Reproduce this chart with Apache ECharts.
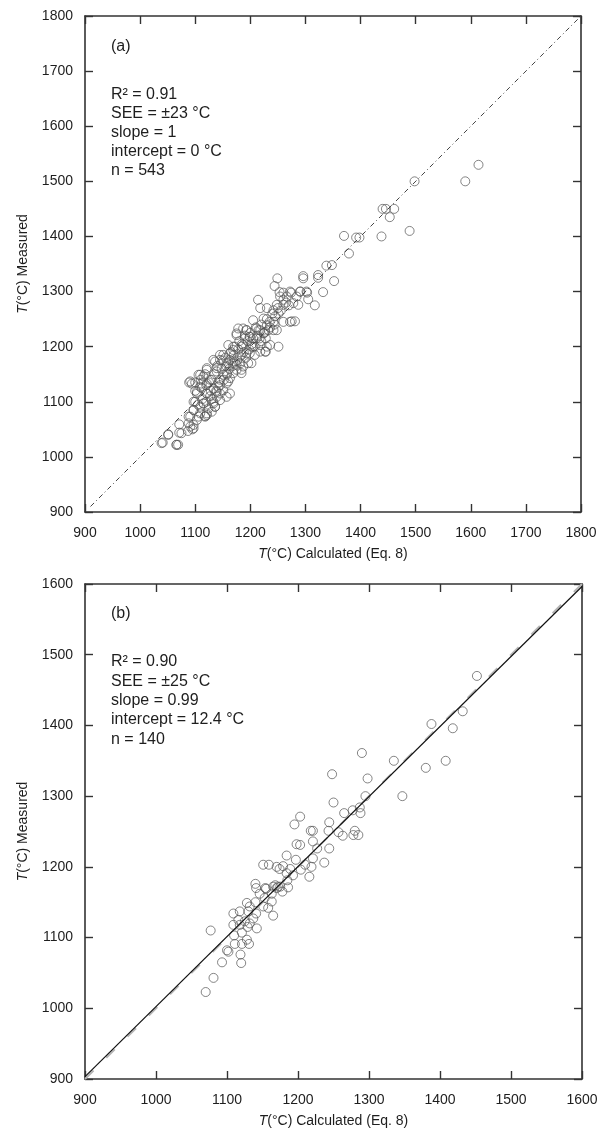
<!DOCTYPE html>
<html>
<head>
<meta charset="utf-8">
<script src="https://cdn.jsdelivr.net/npm/echarts@6/dist/echarts.min.js"></script>
<style>
html,body{margin:0;padding:0;background:#fff;}
#chart{width:601px;height:1129px;}
</style>
</head>
<body>
<div id="chart"></div>
<script>
// ---------- DATA ----------
const ticksA = [900, 1000, 1100, 1200, 1300, 1400, 1500, 1600, 1700, 1800];
const ticksB = [900, 1000, 1100, 1200, 1300, 1400, 1500, 1600];

// Panel (a): [T calculated, T measured]
const pointsA = [
  [1614,1530],[1590,1500],[1498,1500],[1440,1450],[1446,1450],[1461,1450],[1453,1435],
  [1438,1400],[1489,1410],[1370,1401],[1392,1398],[1398,1398],[1379,1369],[1338,1347],
  [1348,1348],[1352,1319],[1323,1330],[1323,1325],[1296,1328],[1296,1324],[1249,1324],
  [1244,1310],[1332,1299],[1274,1298],[1291,1300],[1303,1298],[1253,1299],[1260,1298],
  [1214,1285],[1317,1275],[1275,1246],[1281,1246],[1251,1200],[1228,1191],[1202,1170],
  [1041,1026],[1051,1041],[1066,1022],[1069,1022],[1071,1044],[1071,1059],[1087,1047],
  [1095,1050],[1089,1135],[1100,1135],[1118,1074],[1136,1091],
  [1272,1300],[1290,1300],[1302,1300],[1305,1286],[1284,1291],[1266,1291],[1254,1291],
  [1248,1276],[1230,1270],[1242,1266],[1218,1270],[1224,1251],[1205,1248],[1251,1260],
  [1260,1276],[1278,1279],[1287,1276],
  [1187,1233],[1175,1224],[1193,1230],[1199,1218],[1218,1230],[1230,1239],[1242,1245],
  [1224,1224],[1211,1215],[1190,1215],[1233,1230],[1248,1230],[1260,1245],[1272,1245],
  [1160,1203],[1169,1194],[1184,1200],[1202,1200],[1218,1203],[1230,1200],[1218,1191],
  [1181,1182],[1163,1176],[1151,1185],[1193,1188],[1208,1185],[1227,1191],[1145,1176],
  [1169,1170],
  [1133,1176],[1139,1161],[1157,1164],[1175,1167],[1184,1158],[1196,1170],[1151,1149],
  [1169,1152],[1121,1158],[1115,1146],[1130,1140],[1145,1140],[1163,1143],[1184,1152],
  [1106,1149],[1142,1127],[1157,1133],[1133,1124],[1121,1133],[1109,1127],[1094,1133],
  [1103,1115],[1121,1115],[1139,1109],[1151,1121],[1115,1097],[1133,1097],[1145,1103],
  [1097,1100],[1109,1091],[1124,1088],[1136,1091],[1157,1109],[1163,1115],
  [1097,1085],[1109,1079],[1121,1079],[1091,1073],[1103,1067],[1088,1061],[1097,1058],
  [1118,1073],[1130,1082],
  [1110,1140],[1118,1150],[1125,1135],[1128,1120],[1135,1150],[1140,1165],[1148,1160],
  [1150,1175],[1155,1180],[1160,1170],[1165,1190],[1170,1185],[1172,1200],[1178,1195],
  [1180,1210],[1185,1205],[1190,1220],[1195,1210],[1200,1225],[1205,1215],[1210,1235],
  [1215,1230],[1220,1240],[1225,1225],[1230,1250],[1235,1245],[1240,1260],[1245,1255],
  [1250,1270],[1255,1265],[1260,1285],[1265,1280],[1270,1275],[1113,1105],[1120,1100],
  [1127,1110],[1138,1120],[1143,1135],[1152,1140],[1158,1150],[1162,1160],[1168,1165],
  [1176,1175],[1182,1170],[1188,1190],[1192,1180],[1198,1195],[1203,1205],[1208,1200],
  [1212,1220],[1220,1210],[1228,1215],[1236,1235],[1244,1240],[1100,1120],[1105,1095],
  [1112,1125],[1120,1130],[1130,1105],[1145,1115],
  [1178,1233],[1193,1230],[1211,1233],[1227,1227],[1242,1230],[1175,1221],[1199,1218],
  [1217,1215],[1236,1203],[1187,1203],[1169,1200],[1205,1200],[1163,1188],[1184,1185],
  [1199,1188],[1145,1185],[1136,1173],[1157,1170],[1172,1173],[1187,1164],[1121,1161],
  [1139,1155],[1157,1152],[1175,1158],[1109,1149],[1091,1137],[1112,1133],[1127,1140],
  [1145,1130],[1160,1137],[1103,1118],[1121,1115],[1139,1118],[1100,1100],[1115,1097],
  [1133,1100],[1097,1085],[1088,1073],[1106,1073],[1121,1076],[1091,1055],[1075,1043],
  [1097,1052],[1051,1040],[1039,1025],[1066,1022]
];
const oneToOneA = [[910, 910], [1800, 1800]];

// Panel (b)
const pointsB = [
  [1452,1470],[1432,1420],[1418,1396],[1388,1402],[1408,1350],[1380,1340],[1347,1300],
  [1335,1350],[1290,1361],[1248,1331],[1298,1325],[1295,1300],[1250,1291],[1287,1284],
  [1288,1276],[1277,1280],[1265,1276],[1244,1263],[1218,1251],[1221,1251],[1243,1251],
  [1257,1249],[1263,1244],[1278,1245],[1280,1251],[1285,1245],[1203,1271],[1203,1231],
  [1221,1236],[1227,1226],[1244,1226],[1221,1212],[1237,1206],[1210,1203],[1195,1260],
  [1198,1232],[1216,1186],[1184,1216],[1197,1210],
  [1151,1203],[1159,1203],[1170,1200],[1179,1201],[1174,1197],[1189,1197],[1184,1191],
  [1193,1188],[1204,1196],[1219,1200],[1185,1181],[1175,1172],[1186,1171],[1168,1174],
  [1170,1170],[1140,1176],[1141,1170],[1155,1169],[1163,1162],[1178,1165],[1146,1162],
  [1153,1156],[1163,1151],[1151,1144],[1158,1142],[1165,1131],[1128,1149],[1140,1150],
  [1132,1144],[1118,1137],[1109,1134],[1130,1137],[1141,1134],[1116,1125],[1125,1123],
  [1132,1120],[1142,1113],[1109,1118],[1118,1118],[1129,1115],[1137,1127],[1110,1103],
  [1121,1107],[1128,1097],[1131,1091],[1111,1091],[1121,1091],[1100,1082],[1102,1080],
  [1119,1076],[1093,1065],[1120,1064],[1077,1110],[1081,1043],[1070,1023],
  [1154,1170],[1165,1172],[1172,1172]
];
const oneToOneB = [[900, 900], [1600, 1600]];
const regressionB = [[900, 903.4], [1600, 1596.4]];

const statsA = ['R² = 0.91', 'SEE = ±23 °C', 'slope = 1', 'intercept = 0 °C', 'n = 543'];
const statsB = ['R² = 0.90', 'SEE = ±25 °C', 'slope = 0.99', 'intercept = 12.4 °C', 'n = 140'];
const panelLabels = ['(a)', '(b)'];
const xTitle = '{i|T}(°C) Calculated (Eq. 8)';
const yTitle = '{i|T}(°C) Measured';

// ---------- CHART ----------
const FONT = '"Liberation Sans", Arial, Helvetica, sans-serif';
const AX = '#333333';
const TXT = '#1e1e1e';

const richTitle = {
  fontSize: 14, fontFamily: FONT, color: TXT,
  rich: { i: { fontStyle: 'italic', fontSize: 14, fontFamily: FONT, color: TXT } }
};

function plain(v) { return String(v); }

function xAx(grid, min, max, main) {
  return {
    gridIndex: grid, type: 'value', min: min, max: max, interval: 100,
    position: main ? 'bottom' : 'top',
    axisLine: { show: true, onZero: false, lineStyle: { color: AX, width: 1.6 } },
    axisTick: { show: true, inside: true, length: 8, lineStyle: { color: AX, width: 1.4 } },
    axisLabel: { show: main, margin: 14, fontSize: 14, fontFamily: FONT, color: TXT, formatter: plain },
    splitLine: { show: false },
    name: main ? xTitle : '', nameLocation: 'middle', nameGap: 35,
    nameTextStyle: richTitle
  };
}
function yAx(grid, min, max, main) {
  return {
    gridIndex: grid, type: 'value', min: min, max: max, interval: 100,
    position: main ? 'left' : 'right',
    axisLine: { show: true, onZero: false, lineStyle: { color: AX, width: 1.6 } },
    axisTick: { show: true, inside: true, length: 8, lineStyle: { color: AX, width: 1.4 } },
    axisLabel: { show: main, margin: 12, fontSize: 14, fontFamily: FONT, color: TXT, formatter: plain },
    splitLine: { show: false },
    name: main ? yTitle : '', nameLocation: 'middle', nameGap: 55,
    nameTextStyle: richTitle
  };
}

const markerStyle = { color: 'rgba(255,255,255,0)', borderColor: '#555', borderWidth: 0.9 };

const graphics = [];
function addText(lines, x, y0, step) {
  lines.forEach(function (t, i) {
    graphics.push({
      type: 'text', x: x, y: y0 + i * step, silent: true,
      style: { text: t, fontSize: 16, fontFamily: FONT, fill: TXT, verticalAlign: 'middle', align: 'left' }
    });
  });
}
addText([panelLabels[0]], 111, 47, 0);
addText(statsA, 111, 95, 19);
addText([panelLabels[1]], 111, 614, 0);
addText(statsB, 111, 662, 19.3);

const option = {
  animation: false,
  backgroundColor: '#ffffff',
  grid: [
    { left: 85, top: 16, width: 496, height: 496 },
    { left: 85, top: 584, width: 497, height: 495 }
  ],
  xAxis: [
    xAx(0, ticksA[0], ticksA[ticksA.length - 1], true),
    xAx(0, ticksA[0], ticksA[ticksA.length - 1], false),
    xAx(1, ticksB[0], ticksB[ticksB.length - 1], true),
    xAx(1, ticksB[0], ticksB[ticksB.length - 1], false)
  ],
  yAxis: [
    yAx(0, ticksA[0], ticksA[ticksA.length - 1], true),
    yAx(0, ticksA[0], ticksA[ticksA.length - 1], false),
    yAx(1, ticksB[0], ticksB[ticksB.length - 1], true),
    yAx(1, ticksB[0], ticksB[ticksB.length - 1], false)
  ],
  series: [
    {
      type: 'line', xAxisIndex: 0, yAxisIndex: 0, data: oneToOneA,
      showSymbol: false, symbol: 'none', silent: true,
      lineStyle: { color: '#444', width: 1, type: [5, 3, 1, 3] }
    },
    {
      type: 'scatter', xAxisIndex: 0, yAxisIndex: 0, data: pointsA,
      symbol: 'circle', symbolSize: 9, itemStyle: markerStyle, silent: true
    },
    {
      type: 'line', xAxisIndex: 2, yAxisIndex: 2, data: oneToOneB,
      showSymbol: false, symbol: 'none', silent: true,
      lineStyle: { color: '#b5b5b5', width: 2, type: [12, 18] }
    },
    {
      type: 'line', xAxisIndex: 2, yAxisIndex: 2, data: regressionB,
      showSymbol: false, symbol: 'none', silent: true,
      lineStyle: { color: '#111', width: 1.2, type: 'solid' }
    },
    {
      type: 'scatter', xAxisIndex: 2, yAxisIndex: 2, data: pointsB,
      symbol: 'circle', symbolSize: 9, itemStyle: markerStyle, silent: true
    }
  ],
  graphic: graphics
};

const chart = echarts.init(document.getElementById('chart'), null, { renderer: 'canvas' });
chart.setOption(option);
</script>
</body>
</html>
